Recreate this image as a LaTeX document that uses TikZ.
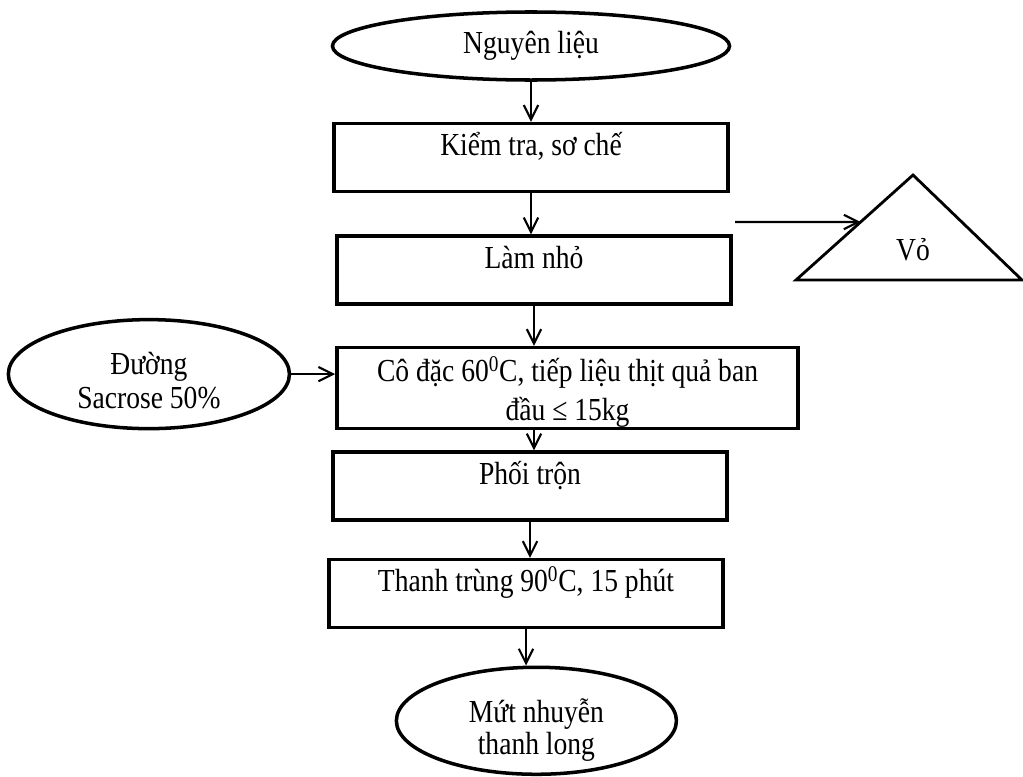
\documentclass[tikz,border=0pt]{standalone}
\usepackage{fontspec}
\setmainfont{Liberation Serif}[FakeStretch=0.86]
\usetikzlibrary{positioning,shapes.geometric,arrows.meta,calc}

\begin{document}
\begin{tikzpicture}[x=0.025cm,y=-0.025cm,node distance=1.1cm,
    every node/.style={font=\fontsize{22.8pt}{24.2pt}\selectfont},
    stepbox/.style={draw,rectangle,line width=2.5pt,inner sep=0pt,minimum width=9.85cm,text height=0.8cm,text depth=0.9cm},
    endpoint/.style={draw,ellipse,line width=2.5pt,inner sep=0pt,align=center},
    flow/.style={-{Straight Barb[length=0.36cm,width=0.36cm]},line width=1.5pt}]
   \useasboundingbox (0,0) rectangle (1023,776);
   \node[endpoint,minimum width=9.925cm,minimum height=1.7cm] (nl) at (531,46) {Nguyên liệu};
   \node[stepbox] (kt) [below=1cm of nl] {Kiểm tra, sơ chế};
   \node[stepbox] (lamnho) [below=1.025cm of kt,xshift=0.075cm] {Làm nhỏ};
   \node[stepbox,minimum width=11.525cm,align=center,text height=1.825cm,text depth=0.2cm]
      (codac) [below=1cm of lamnho.south west,anchor=north west]
      {Cô đặc 60\textsuperscript{0}C, tiếp liệu thịt quả ban\\[0.125cm] đầu ≤ 15kg};
   \node[stepbox] (phoi) [below=0.5cm of codac.south west,anchor=north west,xshift=-0.1cm] {Phối trộn};
   \node[stepbox] (thanh) [below=0.9cm of phoi,xshift=-0.1cm] {Thanh trùng 90\textsuperscript{0}C, 15 phút};
   \node[endpoint,minimum width=7cm,minimum height=2.675cm,text height=1.675cm,text depth=0pt]
      (mut) [below=0.9cm of thanh,xshift=0.26cm] {Mứt nhuyễn\\[-0.05cm] thanh long};
   \node[endpoint,minimum width=7.025cm,minimum height=2.725cm,text height=1.725cm,text depth=0pt]
      (duong) [left=1.1cm of codac.west,anchor=east,yshift=0.35cm] {Đường\\ Sacrose 50\%};
   % vo
   \coordinate (tl) at (796,280);
   \coordinate (ta) at (913,175);
   \coordinate (tr) at (1022,280);
   \draw[line width=2pt,line join=miter] (tl) -- (ta) -- (tr) -- cycle;
   \node[anchor=base] (vo) at (913,260) {Vỏ};
   \coordinate (vfrom) at (735,222);
   \coordinate (vto) at ($(tl)!0.552!(ta)$);
   \path[flow]
    (nl) edge (kt)
    (kt) edge (lamnho.north -| kt.south)
    (lamnho.south) edge (lamnho.south |- codac.north)
    (lamnho.south |- codac.south) edge (lamnho.south |- phoi.north)
    (phoi.south) edge (phoi.south |- thanh.north)
    (thanh.south) edge (thanh.south |- mut.north)
    (duong.east) edge (duong.east -| codac.west)
    (vfrom) edge (vto);
\end{tikzpicture}
\end{document}
